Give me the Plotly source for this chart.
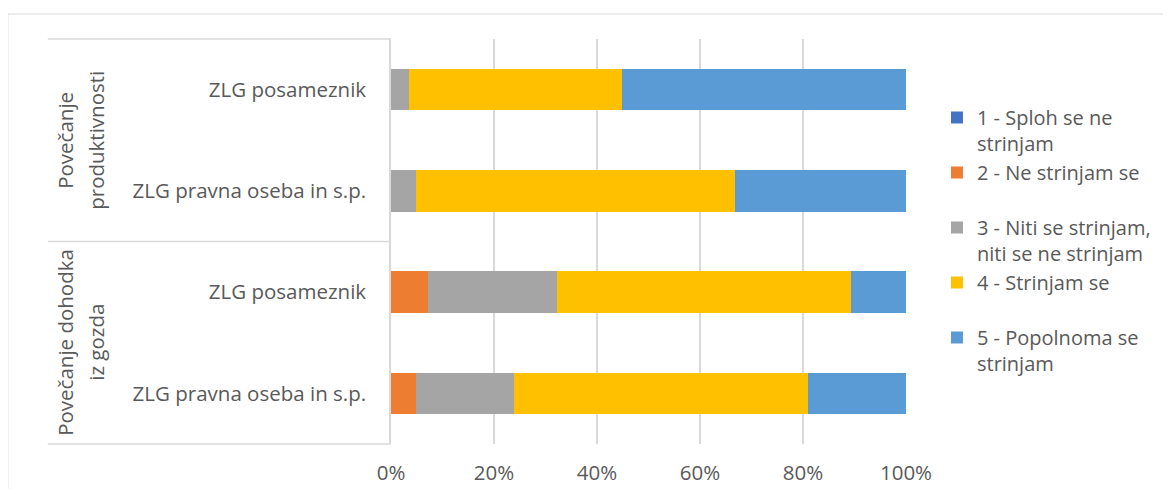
import plotly.graph_objects as go

# ---- data ----
groups = [["Povečanje dohodka", "iz gozda"], ["Povečanje", "produktivnosti"]]
subcats = ["ZLG pravna oseba in s.p.", "ZLG posameznik",
           "ZLG pravna oseba in s.p.", "ZLG posameznik"]
series_names = ["1 - Sploh se ne<br>strinjam", "2 - Ne strinjam se<br> ",
                "3 - Niti se strinjam,<br>niti se ne strinjam", "4 - Strinjam se<br> ",
                "5 - Popolnoma se<br>strinjam"]
s1 = [0.0, 0.0, 0.0, 0.0]
s2 = [4.8, 7.2, 0.0, 0.0]
s3 = [19.1, 25.0, 4.8, 3.4]
s4 = [57.1, 57.2, 62.0, 41.4]
s5 = [19.0, 10.6, 33.2, 55.2]
colors = ["#4472C4", "#ED7D31", "#A5A5A5", "#FFC000", "#5B9BD5"]
x_ticks = [0, 20, 40, 60, 80, 100]

# ---- layout geometry (page pixels; page body has an 8px margin) ----
OX, OY = 8, 7
W, H = 1171 - OX, 489 - OY
L, R, T, B = 390.5 - OX, 906 - OX, 38 - OY, 443 - OY
FONT = "Open Sans"
FS = 20.5
LFS = 20
TXT = "#595959"
GRID = "#D9D9D9"


def px_x(x):
    return (x - OX - L) / (R - L)


def px_y(y):
    return (B - (y - OY)) / (B - T)


fig = go.Figure()
pos = list(range(len(subcats)))
for i, (name, vals) in enumerate(zip(series_names, [s1, s2, s3, s4, s5])):
    fig.add_trace(go.Bar(
        x=vals, y=pos, orientation="h", name=name,
        marker=dict(color=colors[i], line=dict(width=0)),
    ))

shapes = [
    dict(type="rect", xref="paper", yref="paper",
         x0=px_x(7), x1=px_x(1200), y0=px_y(13), y1=px_y(520),
         line=dict(color=GRID, width=1)),
]
for yy in [38, 240.5, 443]:
    shapes.append(dict(type="line", xref="paper", yref="paper",
                       x0=px_x(47), x1=px_x(390.5), y0=px_y(yy), y1=px_y(yy),
                       line=dict(color=GRID, width=1.5)))

annotations = []
group_centers = [341, 139]
for g, yc in zip(groups, group_centers):
    for j, line in enumerate(g):
        annotations.append(dict(
            text=line, xref="paper", yref="paper",
            x=px_x(64 + 31 * j), y=px_y(yc), xanchor="center", yanchor="middle",
            textangle=-90, showarrow=False,
            font=dict(family=FONT, size=FS, color=TXT)))

fig.update_layout(
    width=W, height=H,
    margin=dict(l=L, r=W - R, t=T, b=H - B, pad=0, autoexpand=False),
    paper_bgcolor="white", plot_bgcolor="white",
    barmode="stack", bargap=0.59,
    font=dict(family=FONT, size=FS, color=TXT),
    xaxis=dict(range=[0, 100], tickvals=x_ticks,
               ticktext=[f"{v}%" for v in x_ticks],
               showgrid=True, gridcolor=GRID, gridwidth=1.5,
               zeroline=False, showline=False, ticks="",
               ticklabelstandoff=14, automargin=False,
               tickfont=dict(family=FONT, size=FS, color=TXT), fixedrange=True),
    yaxis=dict(range=[-0.5, len(subcats) - 0.5], tickvals=pos, ticktext=subcats,
               showgrid=False, zeroline=False, showline=True, linecolor=GRID,
               linewidth=1.5, ticks="", ticklabelstandoff=19, automargin=False,
               tickfont=dict(family=FONT, size=FS, color=TXT), fixedrange=True),
    legend=dict(x=px_x(937), y=px_y(97), xanchor="left", yanchor="top",
                traceorder="normal", valign="top",
                font=dict(family=FONT, size=LFS, color=TXT),
                bgcolor="rgba(0,0,0,0)"),
    shapes=shapes, annotations=annotations,
)

fig.write_html("out.html")
